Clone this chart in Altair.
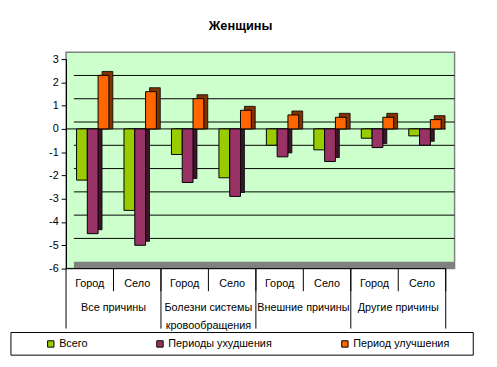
import altair as alt
import pandas as pd

groups = ["Все причины", "Болезни системы\nкровообращения", "Внешние причины", "Другие причины"]
subs = ["Город", "Село"]
series = ["Всего", "Периоды ухудшения", "Период улучшения"]
total = [-2.2, -3.5, -1.1, -2.1, -0.7, -0.9, -0.4, -0.3]
worse = [-4.5, -5.0, -2.3, -2.9, -1.2, -1.4, -0.8, -0.7]
better = [2.3, 1.6, 1.3, 0.8, 0.6, 0.5, 0.5, 0.4]
colors = ["#99CC00", "#993366", "#FF6600"]
dark = ["#3d5200", "#3d1429", "#803300"]
y_ticks = [3, 2, 1, 0, -1, -2, -3, -4, -5, -6]
grid_vals = [2, 1, 0, -1, -2, -3, -4, -5]

cats = []
rows = []
for gi, g in enumerate(groups):
    for si, s in enumerate(subs):
        key = f"{gi}{si}"
        cats.append(key)
        idx = gi * 2 + si
        for ser, vals in zip(series, [total, worse, better]):
            rows.append({"cat": key, "sub": s, "group": g, "series": ser, "value": vals[idx]})
df = pd.DataFrame(rows)
cat_df = pd.DataFrame({"cat": cats, "sub": [s for g in groups for s in subs],
                       "first": [i % 2 == 0 for i in range(len(cats))]})
grp_df = pd.DataFrame({"cat": [cats[i * 2] for i in range(len(groups))], "group": groups})
grp_df["lines"] = grp_df["group"].str.split("\n")
grid_df = pd.DataFrame({"v": grid_vals})

W, H = 395, 220
FONT = "Liberation Sans"
BW = 386 / 8

xs = alt.Scale(domain=cats, range=[0, 386], paddingInner=0, paddingOuter=0)
ys = alt.Scale(domain=[-6, 3], range=[H, 7], nice=False, zero=False)
xo = alt.Scale(domain=series, paddingInner=0, paddingOuter=0.7, range=[3, BW + 3])
xo_sh = alt.Scale(domain=series, paddingInner=0, paddingOuter=0.7, range=[7, BW + 7])

y_axis = alt.Axis(values=y_ticks, title=None, grid=False, domainColor="black", tickColor="black",
                  tickSize=5, labelFont=FONT, labelFontSize=11, labelColor="black",
                  labelPadding=3, labelExpr="'' + datum.value", labelOverlap=False)

x_enc = alt.X("cat:N", scale=xs, axis=None, sort=cats)

floor = alt.Chart(pd.DataFrame({"a": [0]})).mark_rect(color="#808080").encode(
    x=alt.value(8), x2=alt.value(W), y=alt.value(H - 7), y2=alt.value(H))

grid = alt.Chart(grid_df).mark_rule(color="black", yOffset=-7).encode(
    y=alt.Y("v:Q", scale=ys, axis=y_axis), x=alt.value(8), x2=alt.value(W))

zero_line = alt.Chart(pd.DataFrame({"v": [0]})).mark_rule(color="black").encode(
    y=alt.Y("v:Q", scale=ys, axis=y_axis), x=alt.value(0), x2=alt.value(386))

shadow = alt.Chart(df).mark_bar(yOffset=-4, stroke="black", strokeWidth=0.8).encode(
    x=x_enc,
    xOffset=alt.XOffset("series:N", scale=xo_sh, sort=series),
    y=alt.Y("value:Q", scale=ys, axis=y_axis),
    y2=alt.datum(0),
    fill=alt.Fill("series:N", scale=alt.Scale(domain=series, range=dark), legend=None),
)

bars = alt.Chart(df).mark_bar(stroke="black", strokeWidth=1).encode(
    x=x_enc,
    xOffset=alt.XOffset("series:N", scale=xo, sort=series),
    y=alt.Y("value:Q", scale=ys, axis=y_axis),
    y2=alt.datum(0),
    color=alt.Color("series:N", scale=alt.Scale(domain=series, range=colors),
                    legend=alt.Legend(title=None, orient="none", direction="horizontal",
                                      legendX=-21, legendY=291, symbolType="square", symbolSize=42,
                                      symbolStrokeColor="black", symbolStrokeWidth=1,
                                      labelFont=FONT, labelFontSize=11, labelColor="black",
                                      columnPadding=68, labelOffset=3)),
)

sub_sep = alt.Chart(cat_df).mark_rule(color="black").encode(
    x=alt.X("cat:N", scale=xs, axis=None, sort=cats, bandPosition=1),
    y=alt.value(H), y2=alt.value(H + 23))
grp_sep = alt.Chart(cat_df[cat_df["first"]]).mark_rule(color="black").encode(
    x=alt.X("cat:N", scale=xs, axis=None, sort=cats, bandPosition=0),
    y=alt.value(H), y2=alt.value(H + 61))
end_sep = alt.Chart(cat_df.tail(1)).mark_rule(color="black").encode(
    x=alt.X("cat:N", scale=xs, axis=None, sort=cats, bandPosition=1),
    y=alt.value(H), y2=alt.value(H + 61))
base_line = alt.Chart(pd.DataFrame({"a": [0]})).mark_rule(color="black").encode(
    x=alt.value(0), x2=alt.value(386), y=alt.value(H))

sub_txt = alt.Chart(cat_df).mark_text(font=FONT, fontSize=11, color="black").encode(
    x=alt.X("cat:N", scale=xs, axis=None, sort=cats), y=alt.value(H + 16), text="sub:N")
grp_txt = alt.Chart(grp_df).mark_text(font=FONT, fontSize=11, color="black", baseline="top",
                                       lineHeight=18).encode(
    x=alt.X("cat:N", scale=xs, axis=None, sort=cats, bandPosition=1),
    y=alt.value(H + 34), text="lines")

legend_box = alt.Chart(pd.DataFrame({"a": [0]})).mark_rect(fill="white", stroke="black",
                                                          strokeWidth=1).encode(
    x=alt.value(-56), x2=alt.value(414), y=alt.value(285), y2=alt.value(308))

chart = alt.layer(legend_box, floor, grid, zero_line, shadow, bars, base_line, sub_sep, grp_sep,
                  end_sep, sub_txt, grp_txt).resolve_scale(
    color="independent", xOffset="independent").properties(
    width=W, height=H,
    title=alt.Title("Женщины", font=FONT, fontSize=13, fontWeight="bold", color="black",
                    anchor="middle", dx=-20, offset=20),
    autosize=alt.AutoSizeParams(type="none"),
    padding={"left": 59, "top": 42, "right": 35, "bottom": 89},
).configure_view(fill="#CCFFCC", stroke="#808080", strokeWidth=1.5)

chart.save("out.html", embed_options={"renderer": "svg", "actions": False})
